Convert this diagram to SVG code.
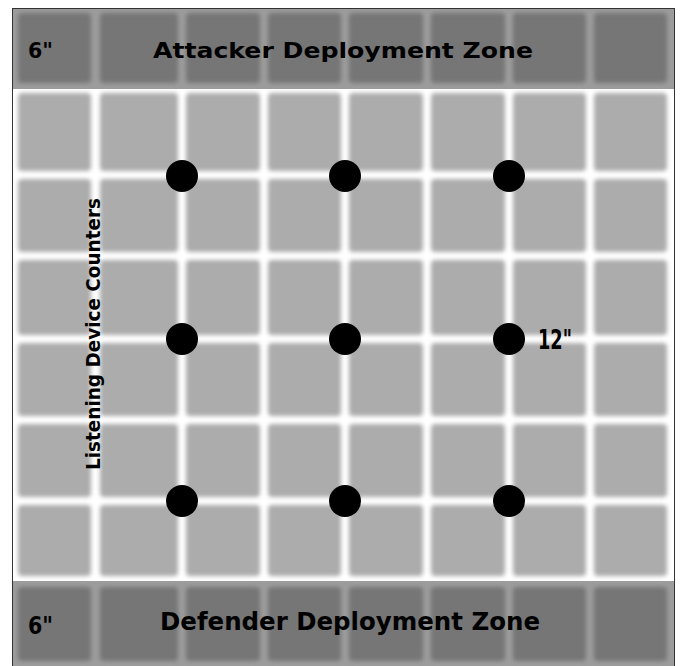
<svg xmlns="http://www.w3.org/2000/svg" width="680" height="666" viewBox="0 0 680 666">
  <defs>
    <filter id="soft" filterUnits="userSpaceOnUse" x="0" y="0" width="680" height="666">
      <feGaussianBlur stdDeviation="2"/>
    </filter>
    <style>
      .tile { fill: #acacac; }
      .ztile { fill: #767676; }
      .dot { fill: #000; }
      .lbl { font-family: "DejaVu Sans", "Liberation Sans", sans-serif; font-weight: bold; fill: #000; }
    </style>
  </defs>

  <!-- background -->
  <rect x="0" y="0" width="680" height="666" fill="#ffffff"/>
  <rect id="zone-top-bg" x="12" y="8" width="662" height="81" fill="#9c9c9c"/>
  <rect id="zone-bottom-bg" x="12" y="581" width="662" height="85" fill="#9c9c9c"/>

  <!-- grid tiles -->
  <g id="grid" filter="url(#soft)">
    <g class="tile">
      <!-- columns: 18-91, 100-178, 186-260, 268-341, 349-423, 431-505, 513-586, 594-667 -->
      <!-- rows: 93-171, 179-252, 260-335, 343-416, 424-497, 505-576 -->
      <rect x="18" y="93" width="73" height="78" rx="4"/><rect x="100" y="93" width="78" height="78" rx="4"/><rect x="186" y="93" width="74" height="78" rx="4"/><rect x="268" y="93" width="73" height="78" rx="4"/><rect x="349" y="93" width="74" height="78" rx="4"/><rect x="431" y="93" width="74" height="78" rx="4"/><rect x="513" y="93" width="73" height="78" rx="4"/><rect x="594" y="93" width="73" height="78" rx="4"/>
      <rect x="18" y="179" width="73" height="73" rx="4"/><rect x="100" y="179" width="78" height="73" rx="4"/><rect x="186" y="179" width="74" height="73" rx="4"/><rect x="268" y="179" width="73" height="73" rx="4"/><rect x="349" y="179" width="74" height="73" rx="4"/><rect x="431" y="179" width="74" height="73" rx="4"/><rect x="513" y="179" width="73" height="73" rx="4"/><rect x="594" y="179" width="73" height="73" rx="4"/>
      <rect x="18" y="260" width="73" height="75" rx="4"/><rect x="100" y="260" width="78" height="75" rx="4"/><rect x="186" y="260" width="74" height="75" rx="4"/><rect x="268" y="260" width="73" height="75" rx="4"/><rect x="349" y="260" width="74" height="75" rx="4"/><rect x="431" y="260" width="74" height="75" rx="4"/><rect x="513" y="260" width="73" height="75" rx="4"/><rect x="594" y="260" width="73" height="75" rx="4"/>
      <rect x="18" y="343" width="73" height="73" rx="4"/><rect x="100" y="343" width="78" height="73" rx="4"/><rect x="186" y="343" width="74" height="73" rx="4"/><rect x="268" y="343" width="73" height="73" rx="4"/><rect x="349" y="343" width="74" height="73" rx="4"/><rect x="431" y="343" width="74" height="73" rx="4"/><rect x="513" y="343" width="73" height="73" rx="4"/><rect x="594" y="343" width="73" height="73" rx="4"/>
      <rect x="18" y="424" width="73" height="73" rx="4"/><rect x="100" y="424" width="78" height="73" rx="4"/><rect x="186" y="424" width="74" height="73" rx="4"/><rect x="268" y="424" width="73" height="73" rx="4"/><rect x="349" y="424" width="74" height="73" rx="4"/><rect x="431" y="424" width="74" height="73" rx="4"/><rect x="513" y="424" width="73" height="73" rx="4"/><rect x="594" y="424" width="73" height="73" rx="4"/>
      <rect x="18" y="505" width="73" height="71" rx="4"/><rect x="100" y="505" width="78" height="71" rx="4"/><rect x="186" y="505" width="74" height="71" rx="4"/><rect x="268" y="505" width="73" height="71" rx="4"/><rect x="349" y="505" width="74" height="71" rx="4"/><rect x="431" y="505" width="74" height="71" rx="4"/><rect x="513" y="505" width="73" height="71" rx="4"/><rect x="594" y="505" width="73" height="71" rx="4"/>
    </g>
  </g>

  <!-- deployment zone tiles -->
  <g id="zone-tiles" filter="url(#soft)">
    <g class="ztile">
      <rect x="18" y="13" width="73" height="70" rx="4"/><rect x="100" y="13" width="78" height="70" rx="4"/><rect x="186" y="13" width="74" height="70" rx="4"/><rect x="268" y="13" width="73" height="70" rx="4"/><rect x="349" y="13" width="74" height="70" rx="4"/><rect x="431" y="13" width="74" height="70" rx="4"/><rect x="513" y="13" width="73" height="70" rx="4"/><rect x="594" y="13" width="73" height="70" rx="4"/>
      <rect x="18" y="587" width="73" height="74" rx="4"/><rect x="100" y="587" width="78" height="74" rx="4"/><rect x="186" y="587" width="74" height="74" rx="4"/><rect x="268" y="587" width="73" height="74" rx="4"/><rect x="349" y="587" width="74" height="74" rx="4"/><rect x="431" y="587" width="74" height="74" rx="4"/><rect x="513" y="587" width="73" height="74" rx="4"/><rect x="594" y="587" width="73" height="74" rx="4"/>
    </g>
  </g>

  <!-- border -->
  <rect id="border" x="12.5" y="8.5" width="662" height="660" fill="none" stroke="#333" stroke-width="1"/>

  <!-- counters -->
  <g id="counters">
    <circle id="c1" class="dot" cx="182" cy="176" r="16"/>
    <circle id="c2" class="dot" cx="345" cy="176" r="16"/>
    <circle id="c3" class="dot" cx="509" cy="176" r="16"/>
    <circle id="c4" class="dot" cx="182" cy="339" r="16"/>
    <circle id="c5" class="dot" cx="345" cy="339" r="16"/>
    <circle id="c6" class="dot" cx="509" cy="339" r="16"/>
    <circle id="c7" class="dot" cx="182" cy="501" r="16"/>
    <circle id="c8" class="dot" cx="345" cy="501" r="16"/>
    <circle id="c9" class="dot" cx="509" cy="501" r="16"/>
  </g>

  <!-- labels -->
  <g id="labels">
    <text class="lbl" x="28" y="58" font-size="21" textLength="25" lengthAdjust="spacingAndGlyphs">6"</text>
    <text class="lbl" x="153" y="58" font-size="22" textLength="380" lengthAdjust="spacingAndGlyphs">Attacker Deployment Zone</text>
    <text class="lbl" x="28" y="634" font-size="25" textLength="25" lengthAdjust="spacingAndGlyphs">6"</text>
    <text class="lbl" x="160" y="630" font-size="24" textLength="380" lengthAdjust="spacingAndGlyphs">Defender Deployment Zone</text>
    <text class="lbl" x="538" y="349" font-size="27" textLength="34" lengthAdjust="spacingAndGlyphs">12"</text>
    <text class="lbl" transform="translate(100,334) rotate(-90)" x="0" y="0" font-size="20" text-anchor="middle" textLength="272" lengthAdjust="spacingAndGlyphs">Listening Device Counters</text>
  </g>
</svg>
